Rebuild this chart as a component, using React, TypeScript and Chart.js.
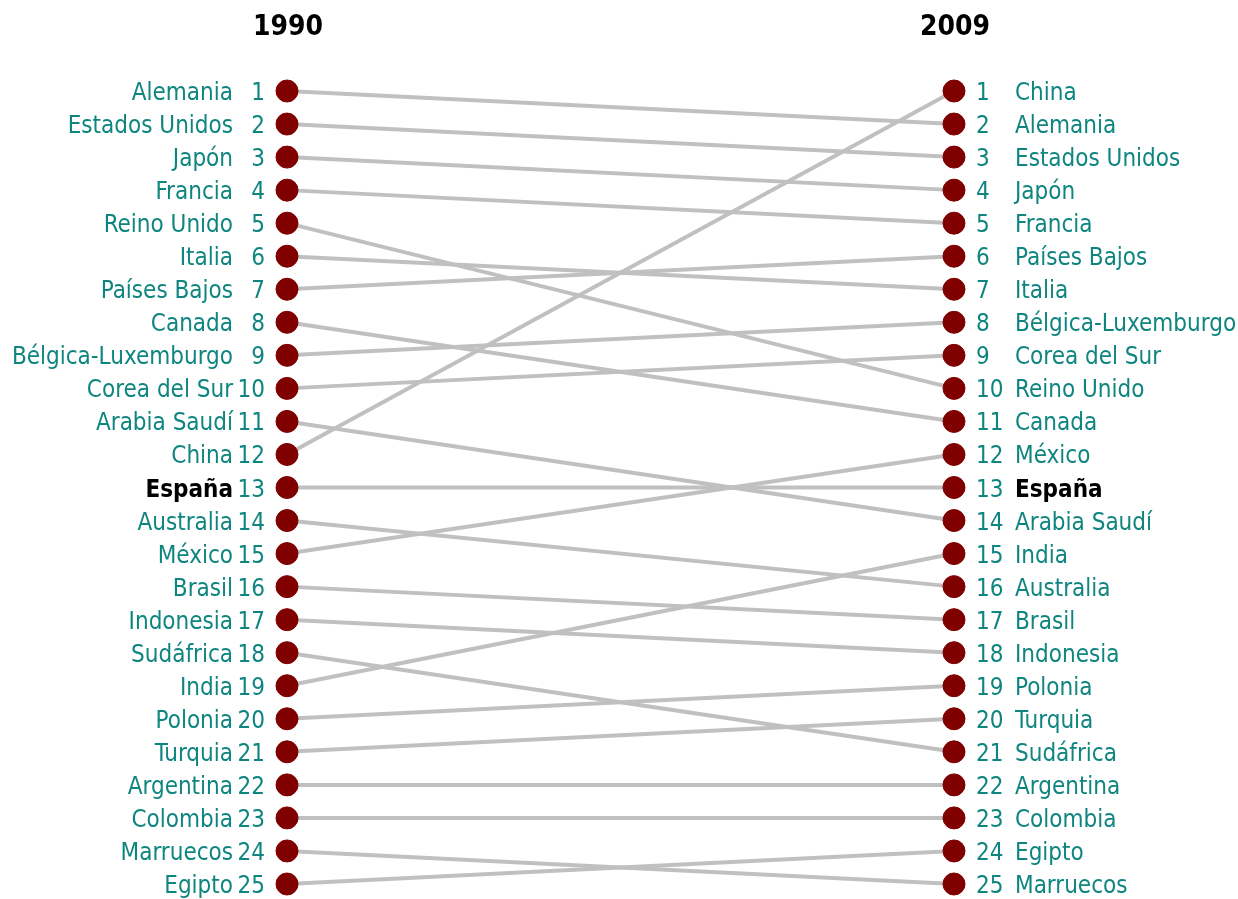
import React, { useEffect, useRef } from "react";
import { Chart, registerables } from "chart.js";

Chart.register(...registerables);

const years = ["1990", "2009"];
const countries = [
  "Alemania", "Estados Unidos", "Japón", "Francia", "Reino Unido", "Italia",
  "Países Bajos", "Canada", "Bélgica-Luxemburgo", "Corea del Sur", "Arabia Saudí",
  "China", "España", "Australia", "México", "Brasil", "Indonesia", "Sudáfrica",
  "India", "Polonia", "Turquia", "Argentina", "Colombia", "Marruecos", "Egipto",
];
const rank1990 = [1, 2, 3, 4, 5, 6, 7, 8, 9, 10, 11, 12, 13, 14, 15, 16, 17, 18, 19, 20, 21, 22, 23, 24, 25];
const rank2009 = [2, 3, 4, 5, 10, 7, 6, 11, 8, 9, 14, 1, 13, 16, 12, 17, 18, 21, 15, 19, 20, 22, 23, 25, 24];
const highlight = "España";

const FONT = "'DejaVu Sans Condensed', 'DejaVu Sans', sans-serif";
const TEAL = "#0f8580";

const labelPlugin = {
  id: "slopeLabels",
  afterDraw(chart: any) {
    const ctx = chart.ctx;
    const xs = chart.scales.x;
    const ys = chart.scales.y;
    const xl = xs.getPixelForValue(0);
    const xr = xs.getPixelForValue(1);
    ctx.save();
    ctx.textBaseline = "alphabetic";
    // titles
    ctx.fillStyle = "#000";
    ctx.font = `bold 28px ${FONT}`;
    ctx.textAlign = "center";
    ctx.fillText(years[0], xl + 1, 35);
    ctx.fillText(years[1], xr + 1, 35);
    countries.forEach((c, i) => {
      const isH = c === highlight;
      const nameFont = isH ? `bold 24px ${FONT}` : `24px ${FONT}`;
      const nameColor = isH ? "#000" : TEAL;
      // left
      const yl = ys.getPixelForValue(rank1990[i]) + 9;
      ctx.textAlign = "right";
      ctx.font = `24px ${FONT}`;
      ctx.fillStyle = TEAL;
      ctx.fillText(String(rank1990[i]), xl - 22, yl);
      ctx.font = nameFont;
      ctx.fillStyle = nameColor;
      ctx.fillText(c, xl - 54, yl);
      // right
      const yr = ys.getPixelForValue(rank2009[i]) + 9;
      ctx.textAlign = "left";
      ctx.font = `24px ${FONT}`;
      ctx.fillStyle = TEAL;
      ctx.fillText(String(rank2009[i]), xr + 22, yr);
      ctx.font = nameFont;
      ctx.fillStyle = nameColor;
      ctx.fillText(c, xr + 61, yr);
    });
    ctx.restore();
  },
};

export default function App() {
  const ref = useRef<HTMLCanvasElement>(null);
  useEffect(() => {
    if (!ref.current) return;
    const datasets = countries.map((c, i) => ({
      label: c,
      data: [
        { x: 0, y: rank1990[i] },
        { x: 1, y: rank2009[i] },
      ],
      borderColor: "#c0c0c0",
      borderWidth: 4,
      pointRadius: 11,
      pointBackgroundColor: "#800000",
      pointBorderColor: "#800000",
      pointBorderWidth: 1,
      clip: false as any,
    }));
    const chart = new Chart(ref.current, {
      type: "line",
      data: { datasets },
      options: {
        animation: false,
        responsive: false,
        maintainAspectRatio: false,
        layout: { padding: { left: 287, right: 284, top: 91, bottom: 15 } },
        scales: {
          x: { type: "linear", min: 0, max: 1, display: false },
          y: { type: "linear", min: 1, max: 25, reverse: true, display: false },
        },
        plugins: { legend: { display: false }, tooltip: { enabled: false }, title: { display: false } },
      },
      plugins: [labelPlugin],
    });
    return () => chart.destroy();
  }, []);
  return (
    <div style={{ position: "absolute", left: 0, top: 0, width: 1238, height: 899, background: "#fff" }}>
      <canvas ref={ref} width={1238} height={899} style={{ display: "block" }} />
    </div>
  );
}
